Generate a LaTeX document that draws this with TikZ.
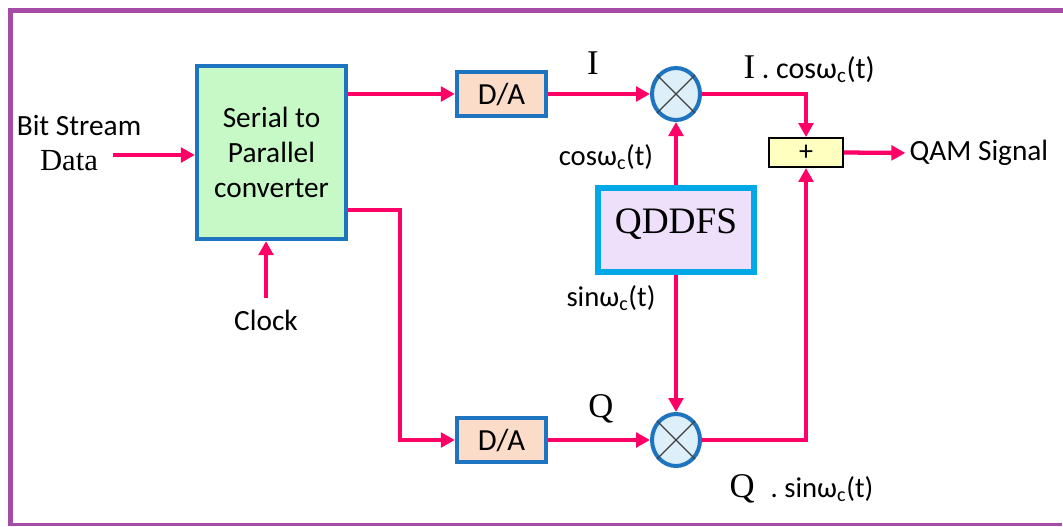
\documentclass[tikz,border=0pt]{standalone}
\usepackage{fontspec}
\setmainfont{Liberation Serif}
\newfontfamily\sansf{Carlito}
\usetikzlibrary{arrows.meta,shapes.geometric,calc}
\definecolor{pinkline}{HTML}{FF0066}
\definecolor{boxblue}{HTML}{1F74BF}
\definecolor{spfill}{HTML}{C6F9C6}
\definecolor{dafill}{HTML}{FBDCC8}
\definecolor{mixfill}{HTML}{DDEFF8}
\definecolor{qdfill}{HTML}{EEE0FA}
\definecolor{qdborder}{HTML}{00A8E8}
\definecolor{plusfill}{HTML}{FFFFC0}
\definecolor{framecol}{HTML}{A64CA6}
\tikzset{
  sig/.style={draw=pinkline, line width=3.2pt, line join=miter},
  arr/.style={sig, -{Triangle[length=10.5pt,width=11pt]}},
  spbox/.style={draw=boxblue, line width=3pt, fill=spfill, minimum width=112pt, minimum height=130pt, align=center, font=\sansf\fontsize{22}{26.5}\selectfont, inner sep=0pt},
  dabox/.style={draw=boxblue, line width=3pt, fill=dafill, minimum width=67pt, minimum height=33pt, font=\sansf\fontsize{23}{26}\selectfont, inner sep=0pt},
  mixer/.style={ellipse, draw=boxblue, line width=3pt, fill=mixfill, minimum width=36pt, minimum height=39pt, inner sep=0pt},
  cross/.style={draw=black!75, line width=0.9pt},
  qdbox/.style={draw=qdborder, line width=4.5pt, fill=qdfill, minimum width=117pt, minimum height=63pt, font=\fontsize{28}{30}\selectfont, text height=19pt, text depth=14pt, inner sep=0pt},
  plusbox/.style={draw=black, line width=1.2pt, fill=plusfill, minimum width=55.5pt, minimum height=22pt, font=\sansf\fontsize{21}{22}\selectfont, inner sep=0pt},
  lbl/.style={font=\sansf\fontsize{22}{26}\selectfont, inner sep=1pt},
  slbl/.style={font=\sansf\fontsize{21.5}{24}\selectfont, inner sep=1pt},
  serif/.style={font=\fontsize{26}{28}\selectfont, inner sep=1pt},
}
\begin{document}
\begin{tikzpicture}[x=0.75pt,y=-0.75pt]
\useasboundingbox (0,0) rectangle (1063,526);
\fill[white] (0,0) rectangle (1063,526);
% frame (top and bottom only: the left edge is drawn as a single path with them)
\draw[framecol, line width=3.8pt, line join=miter] (1063,10.5) -- (10.5,10.5) -- (10.5,526);
\draw[framecol, line width=1.6pt] (8,524.5) -- (1062,524.5);

% blocks
\node[spbox] (sp) at (271.5,152.5) {Serial to\\Parallel\\converter};
\node[dabox] (da1) at (501.5,94) {D/A};
\node[dabox] (da2) at (501.5,440) {D/A};
\node[mixer] (m1) at (676,94) {};
\node[mixer] (m2) at (676,440) {};
\draw[cross] (m1.45) -- (m1.225) (m1.135) -- (m1.315);
\draw[cross] (m2.45) -- (m2.225) (m2.135) -- (m2.315);
\node[qdbox] (qd) at (676,230) {QDDFS};
\node[plusbox] (plus) at (806,152.5) {+};

% labels
\node[lbl] (bits) at (79,126) {Bit Stream};
\node[font=\fontsize{23}{25}\selectfont, inner sep=1pt] (data) at (69,161) {Data};
\node[lbl] (clock) at (266,320) {Clock};
\node[lbl, anchor=west] (qam) at (908,153) {QAM Signal};
\node[serif] (ilbl) at (593,63) {I};
\node[serif] (qlbl) at (601,409) {Q};
\node[slbl] (coslbl) at (606,157) {cosω\textsubscript{c}(t)};
\node[slbl] (sinlbl) at (611,298) {sinω\textsubscript{c}(t)};
\node[serif, anchor=base west] (icos) at (742,78) {I\hspace{5pt}{\sansf\fontsize{22.5}{24}\selectfont. cosω\textsubscript{c}(t)}};
\node[serif, anchor=base west] (qsin) at (728,497) {Q\hspace{12pt}{\sansf\fontsize{21.5}{24}\selectfont. sinω\textsubscript{c}(t)}};

% connectors
\coordinate (din) at (113,155);
\draw[arr] (din) -- (din -| sp.west);
\coordinate (clk) at (266,298);
\draw[arr] (clk) -- (clk |- sp.south);
\draw[arr] (sp.east |- da1) -- (da1.west);
\draw[arr] (da1.east) -- (m1.west);
\coordinate (sp2) at (sp.east |- 0,210);
\coordinate (bend2) at (400,210);
\draw[arr] (sp2) -- (bend2) |- (da2.west);
\draw[arr] (da2.east) -- (m2.west);
\draw[arr] (qd.north) -- (m1.south);
\draw[arr] (qd.south) -- (m2.north);
\draw[arr] (m1.east) -| (plus.north);
\draw[arr] (m2.east) -| (plus.south);
\draw[arr, shorten >=2pt] (plus.east) -- (qam.west);
\end{tikzpicture}
\end{document}
